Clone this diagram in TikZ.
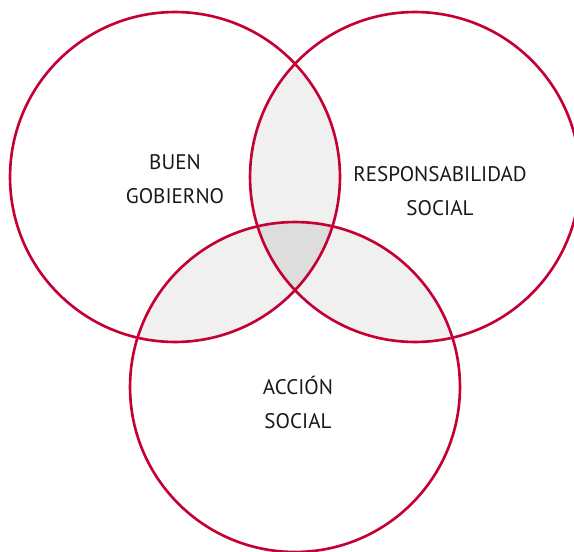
\documentclass[tikz,border=0pt]{standalone}
\usepackage{fontspec}
\setmainfont{PT Sans}
\usepackage{tikz}
\definecolor{venred}{RGB}{196,0,52}
\definecolor{lensgray}{RGB}{240,240,240}
\definecolor{coregray}{RGB}{221,221,221}
\definecolor{txtgray}{RGB}{25,25,25}
\tikzstyle{ring}=[draw=venred, line width=1.5pt]
\tikzstyle{lbl}=[align=center, text=txtgray, font=\fontsize{12}{19.3}\selectfont]

\begin{document}
\begin{tikzpicture}[x=0.02cm, y=-0.02cm]
        \useasboundingbox (0,0) rectangle (574,551);
        \coordinate (bg) at (175,177);
        \coordinate (rs) at (415,177);
        \coordinate (as) at (295,387);
        % pairwise overlaps
        \begin{scope}
            \clip (bg) circle[radius=3.3cm];
            \fill[lensgray] (rs) circle[radius=3.3cm];
            \fill[lensgray] (as) circle[radius=3.3cm];
        \end{scope}
        \begin{scope}
            \clip (rs) circle[radius=3.3cm];
            \fill[lensgray] (as) circle[radius=3.3cm];
        \end{scope}
        % centre
        \begin{scope}
            \clip (bg) circle[radius=3.3cm];
            \clip (rs) circle[radius=3.3cm];
            \fill[coregray] (as) circle[radius=3.3cm];
        \end{scope}
        \draw[ring] (bg) circle[radius=3.3cm];
        \draw[ring] (rs) circle[radius=3.3cm];
        \draw[ring] (as) circle[radius=3.3cm];
        \node[lbl] (bgtext) at (175,179) {BUEN\\GOBIERNO};
        \node[lbl] (rstext) at (440,191) {RESPONSABILIDAD\\SOCIAL};
        \node[lbl] (astext) at (298,402) {ACCIÓN\\SOCIAL};
    \end{tikzpicture}
\end{document}
